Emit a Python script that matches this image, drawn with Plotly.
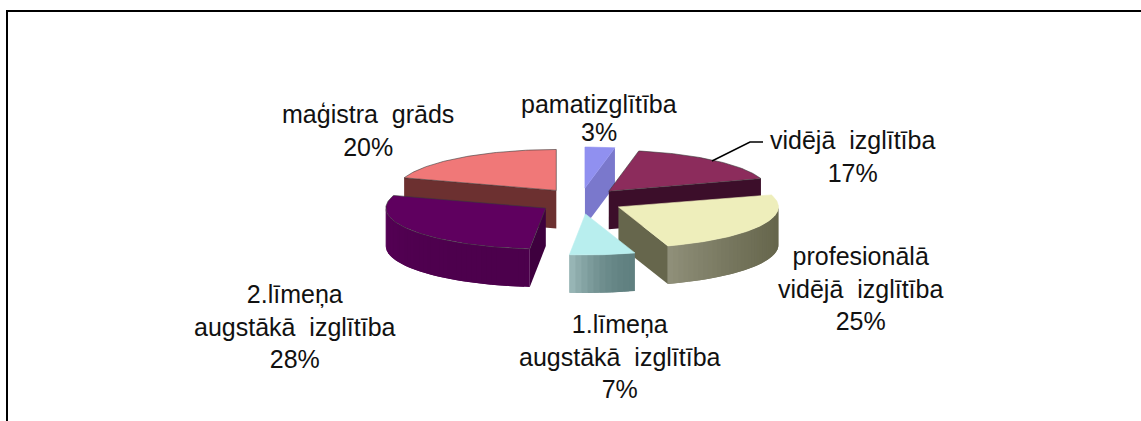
import math
import plotly.graph_objects as go

labels = ["pamatizglītība", "vidējā izglītība", "profesionālā vidējā izglītība",
          "1.līmeņa augstākā izglītība", "2.līmeņa augstākā izglītība", "maģistra grāds"]
values = [3, 17, 25, 6.6, 28.4, 20]
top_colors = ["#9090f0", "#8c2c5c", "#eeeebb", "#b8eeee", "#5f005f", "#f07878"]
side_colors = ["#7a78cc", "#3c0e2a", "#66664c", "#608080", "#4c004c", "#6c3030"]
rim_light = ["#7a78cc", "#5c1c3c", "#90907a", "#9cbaba", "#560056", "#903c3c"]

CX, CY, RX, RY, EX, EY, H = 581, 201, 160, 41, 42, 13, 38
FONT = dict(family="Liberation Sans, Arial, sans-serif", size=25, color="#111111")

fig = go.Figure()


def pt(c, a):
    r = math.radians(a)
    return c[0] + RX * math.sin(r), c[1] - RY * math.cos(r)


def poly(xs, ys, color, line=None):
    fig.add_trace(go.Scatter(x=xs + xs[:1], y=ys + ys[:1], mode="lines", fill="toself",
                             fillcolor=color,
                             line=dict(color=line or color, width=0.6 if line else 0),
                             hoverinfo="skip", showlegend=False))


def mix(c1, c2, t):
    a = [int(c1[i:i + 2], 16) for i in (1, 3, 5)]
    b = [int(c2[i:i + 2], 16) for i in (1, 3, 5)]
    return "rgb(%d,%d,%d)" % tuple(round(p + (q - p) * t) for p, q in zip(a, b))


# wedge angles from the values
wedges = []
start = 0.0
total = sum(values)
for i, v in enumerate(values):
    end = start + 360 * v / total
    mid = math.radians((start + end) / 2)
    c = (CX + EX * math.sin(mid), CY - EY * math.cos(mid))
    wedges.append((i, start, end, c))
    start = end


def draw(w):
    i, a0, a1, c = w
    p0, p1 = pt(c, a0), pt(c, a1)
    # radial faces that look towards the viewer
    if a1 <= 180:
        poly([c[0], p1[0], p1[0], c[0]], [c[1], p1[1], p1[1] + H, c[1] + H], side_colors[i])
    if a0 >= 180:
        poly([c[0], p0[0], p0[0], c[0]], [c[1], p0[1], p0[1] + H, c[1] + H],
             "#3e003e" if i == 4 else side_colors[i])
    # outer rim strips, overlapping so no seams show
    lo, hi = max(a0, 90), min(a1, 270)
    n = max(int((hi - lo) / 2), 1) if hi > lo else 0
    for k in range(n):
        s0 = lo + (hi - lo) * k / n
        s1 = lo + (hi - lo) * min(k + 2, n) / n
        q = [pt(c, s0 + (s1 - s0) * j / 3) for j in range(4)]
        xs = [p[0] for p in q] + [p[0] for p in reversed(q)]
        ys = [p[1] for p in q] + [p[1] + H for p in reversed(q)]
        poly(xs, ys, mix(side_colors[i], rim_light[i], ((k + .5) / n) ** 2))
    # top surface
    steps = max(int(a1 - a0), 2)
    xs, ys = [c[0]], [c[1]]
    for k in range(steps + 1):
        q = pt(c, a0 + (a1 - a0) * k / steps)
        xs.append(q[0])
        ys.append(q[1])
    poly(xs, ys, top_colors[i], "#3a3a3a" if i in (4, 5, 1) else top_colors[i])


for idx in [0, 5, 1, 4, 2, 3]:
    draw(wedges[idx])

texts = [
    ("pamatizglītība", 599, 88),
    ("3%", 599, 116),
    ("vidējā\u00a0 izglītība<br>17%", 852, 124),
    ("profesionālā<br>vidējā\u00a0 izglītība<br>25%", 860, 240),
    ("1.līmeņa<br>augstākā\u00a0 izglītība<br>7%", 620, 308),
    ("2.līmeņa<br>augstākā\u00a0 izglītība<br>28%", 295, 278),
    ("maģistra\u00a0 grāds<br>20%", 368, 98),
]
annotations = [dict(text=t, x=x, y=y, xref="x", yref="y", xanchor="center", yanchor="top",
                    showarrow=False, font=FONT, align="center") for t, x, y in texts]

frame = dict(type="line", xref="x", yref="y", line=dict(color="#000000", width=2))
shapes = [
    dict(frame, x0=6, y0=11, x1=1141, y1=11),
    dict(frame, x0=7, y0=11, x1=7, y1=421),
    dict(type="path", path="M 712 161 L 750 142 L 763 142", xref="x", yref="y",
         line=dict(color="#000000", width=1.5)),
]

fig.update_layout(
    width=1141, height=421, margin=dict(l=0, r=0, t=0, b=0),
    paper_bgcolor="#ffffff", plot_bgcolor="#ffffff", showlegend=False,
    xaxis=dict(range=[0, 1141], visible=False, fixedrange=True),
    yaxis=dict(range=[421, 0], visible=False, fixedrange=True),
    annotations=annotations, shapes=shapes,
)
fig.write_html("out.html", config={"displayModeBar": False},
               post_script="document.body.style.margin='0';document.body.style.overflow='hidden';")
